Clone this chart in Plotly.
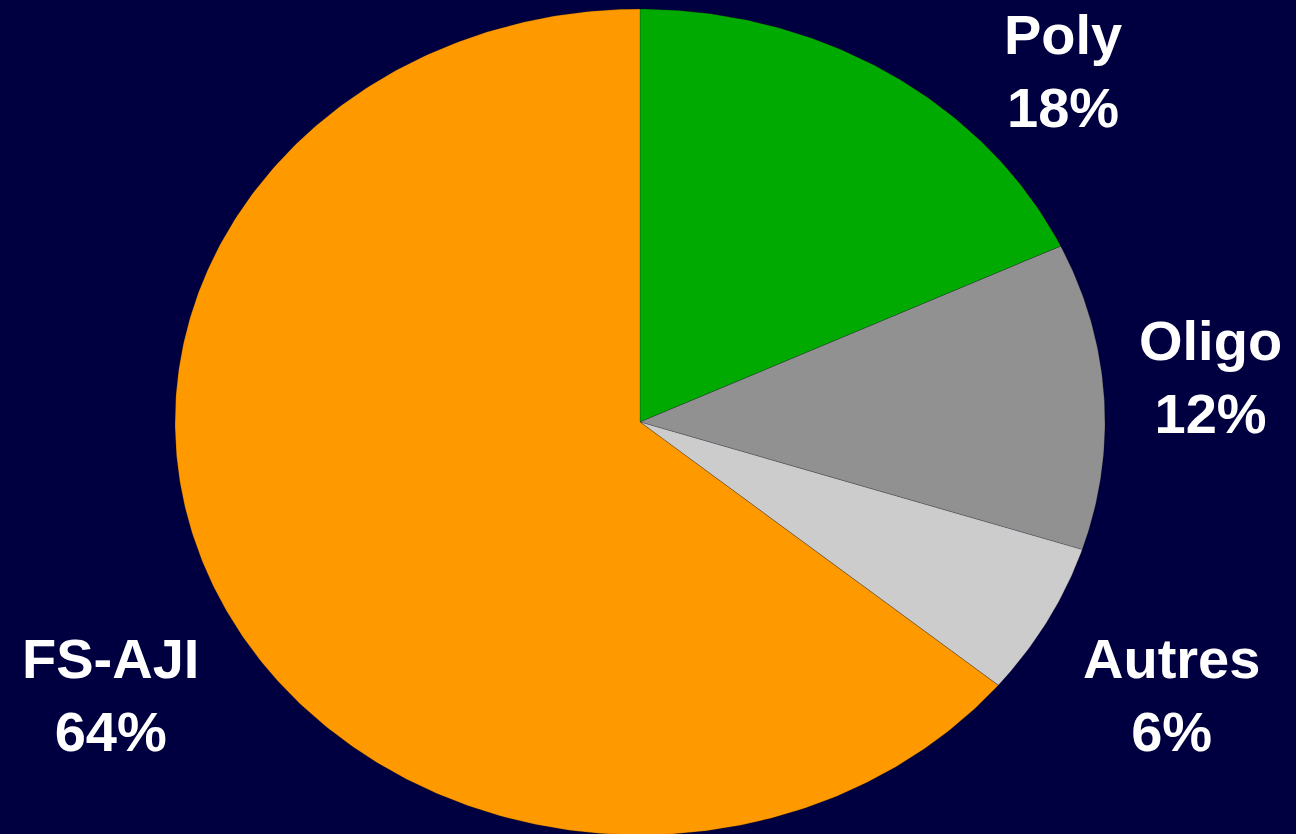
import numpy as np
import plotly.graph_objects as go

# Share of each group (percent), clockwise from 12 o'clock
labels = ["Poly", "Oligo", "Autres", "FS-AJI"]
values = [18, 12, 6, 64]
colors = ["#00AA00", "#919191", "#CCCCCC", "#FF9900"]

# Label anchor points, in units of the pie radius (x: horizontal, y: vertical)
label_x = [0.910, 1.226, 1.142, -1.138]
label_y = [0.850, 0.108, -0.660, -0.660]

BG = "#000040"

fig = go.Figure()

total = float(sum(values))
start = 0.0
for name, val, col in zip(labels, values, colors):
    frac0 = start / total
    frac1 = (start + val) / total
    n = max(int(600 * (frac1 - frac0)), 8)
    # angles measured clockwise from the top
    t = np.linspace(frac0, frac1, n) * 2 * np.pi
    xs = np.concatenate([[0.0], np.sin(t), [0.0]])
    ys = np.concatenate([[0.0], np.cos(t), [0.0]])
    fig.add_trace(go.Scatter(
        x=xs, y=ys, mode="lines", fill="toself", fillcolor=col,
        line=dict(color="rgba(0,0,0,0.25)", width=0.8),
        hoverinfo="text", text=f"{name}: {val}%", showlegend=False,
    ))
    start += val

for name, val, lx, ly in zip(labels, values, label_x, label_y):
    fig.add_annotation(
        x=lx, y=ly, xref="x", yref="y",
        text=f"<b>{name}<br>{val}%</b>",
        showarrow=False, xanchor="center", yanchor="middle", align="center",
        font=dict(family="Liberation Sans, Arial, sans-serif", size=56, color="white"),
    )

fig.update_layout(
    width=1296, height=834,
    margin=dict(l=0, r=0, t=0, b=0),
    paper_bgcolor=BG, plot_bgcolor=BG,
    xaxis=dict(range=[-640 / 465, 656 / 465], visible=False, fixedrange=True),
    yaxis=dict(range=[-412 / 413, 422 / 413], visible=False, fixedrange=True),
)

fig.write_html("out.html")
